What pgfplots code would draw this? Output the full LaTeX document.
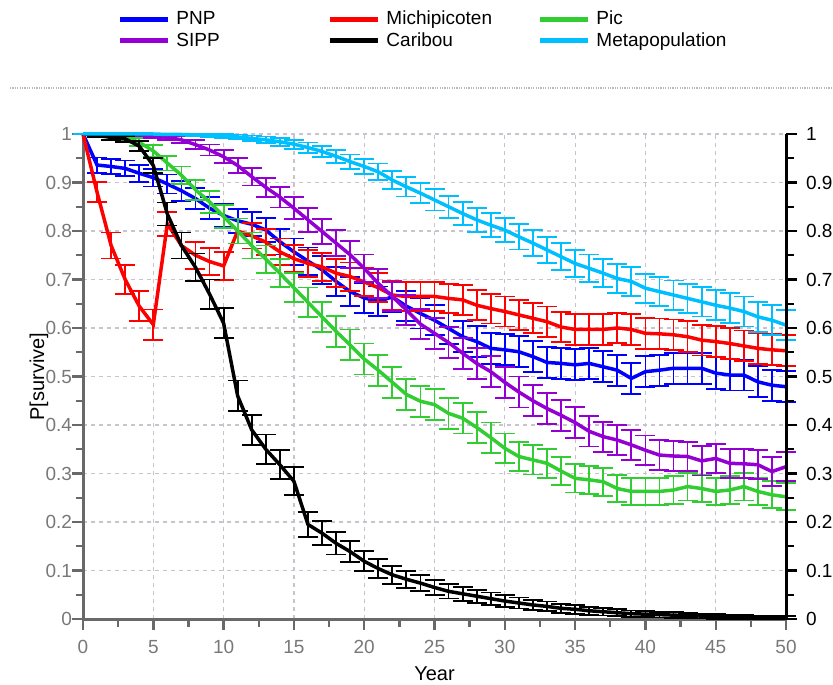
\documentclass[border=0pt]{standalone}
\usepackage{fontspec}
\setmainfont{Liberation Sans}
\usepackage{pgfplots}
\usepackage{pgfplotstable}
\pgfplotsset{compat=1.18}
\definecolor{cPNP}{RGB}{0,0,255}
\definecolor{cMich}{RGB}{255,0,0}
\definecolor{cPic}{RGB}{50,205,50}
\definecolor{cSIPP}{RGB}{148,0,211}
\definecolor{cCar}{RGB}{0,0,0}
\definecolor{cMeta}{RGB}{0,191,255}
\definecolor{axgray}{RGB}{105,105,105}
\definecolor{lblgray}{RGB}{120,120,120}
\definecolor{gridc}{RGB}{200,195,205}
\newcommand{\lf}{\fontsize{9.5}{11}\selectfont}
\newcommand{\ls}{\rule[-2.5pt]{0pt}{9pt}}

\pgfplotstableread{
t p e
0 1 0
1 0.936 0.0157
2 0.933 0.016
3 0.929 0.0164
4 0.919 0.0175
5 0.91 0.0183
6 0.897 0.0195
7 0.883 0.0206
8 0.867 0.0217
9 0.847 0.023
10 0.832 0.0239
11 0.821 0.0245
12 0.814 0.0249
13 0.802 0.0255
14 0.778 0.0266
15 0.757 0.0275
16 0.738 0.0281
17 0.72 0.0287
18 0.696 0.0294
19 0.675 0.03
20 0.662 0.0303
21 0.655 0.0304
22 0.664 0.0302
23 0.645 0.0306
24 0.63 0.0309
25 0.616 0.0311
26 0.599 0.0314
27 0.582 0.0316
28 0.572 0.0317
29 0.558 0.0318
30 0.555 0.0318
31 0.551 0.0318
32 0.541 0.0319
33 0.529 0.0319
34 0.527 0.0319
35 0.524 0.032
36 0.527 0.0319
37 0.52 0.032
38 0.513 0.032
39 0.496 0.032
40 0.51 0.032
41 0.513 0.032
42 0.517 0.032
43 0.517 0.032
44 0.517 0.032
45 0.507 0.032
46 0.503 0.032
47 0.503 0.032
48 0.489 0.032
49 0.482 0.032
50 0.479 0.032
}\tPNP

\pgfplotstableread{
t p e
0 1 0
1 0.88 0.0208
2 0.77 0.0269
3 0.70 0.0293
4 0.645 0.0306
5 0.607 0.0313
6 0.815 0.0249
7 0.77 0.0269
8 0.75 0.0277
9 0.737 0.0282
10 0.728 0.0285
11 0.80 0.0256
12 0.79 0.0261
13 0.777 0.0266
14 0.757 0.0275
15 0.743 0.028
16 0.733 0.0283
17 0.726 0.0285
18 0.713 0.029
19 0.706 0.0292
20 0.695 0.0295
21 0.683 0.0298
22 0.668 0.0301
23 0.665 0.0302
24 0.665 0.0302
25 0.665 0.0302
26 0.661 0.0303
27 0.658 0.0304
28 0.647 0.0306
29 0.64 0.0307
30 0.634 0.0308
31 0.627 0.0309
32 0.62 0.0311
33 0.613 0.0312
34 0.602 0.0313
35 0.597 0.0314
36 0.597 0.0314
37 0.597 0.0314
38 0.60 0.0314
39 0.597 0.0314
40 0.589 0.0315
41 0.588 0.0315
42 0.586 0.0315
43 0.582 0.0316
44 0.575 0.0316
45 0.572 0.0317
46 0.568 0.0317
47 0.563 0.0317
48 0.558 0.0318
49 0.555 0.0318
50 0.553 0.0318
}\tMich

\pgfplotstableread{
t p e
0 1 0
1 1 0
2 0.998 0.0029
3 0.993 0.0053
4 0.983 0.0083
5 0.965 0.0118
6 0.94 0.0152
7 0.915 0.0179
8 0.885 0.0204
9 0.86 0.0222
10 0.83 0.024
11 0.80 0.0256
12 0.77 0.0269
13 0.742 0.028
14 0.713 0.029
15 0.683 0.0298
16 0.653 0.0305
17 0.623 0.031
18 0.593 0.0314
19 0.565 0.0317
20 0.536 0.0319
21 0.513 0.032
22 0.488 0.032
23 0.463 0.0319
24 0.449 0.0318
25 0.442 0.0318
26 0.424 0.0316
27 0.414 0.0315
28 0.395 0.0313
29 0.374 0.031
30 0.352 0.0306
31 0.335 0.0302
32 0.328 0.03
33 0.321 0.0299
34 0.305 0.0295
35 0.29 0.029
36 0.287 0.029
37 0.283 0.0288
38 0.269 0.0284
39 0.263 0.0282
40 0.263 0.0282
41 0.263 0.0282
42 0.266 0.0283
43 0.273 0.0285
44 0.269 0.0284
45 0.263 0.0282
46 0.266 0.0283
47 0.273 0.0285
48 0.263 0.0282
49 0.256 0.0279
50 0.252 0.0278
}\tPic

\pgfplotstableread{
t p e
0 1 0
1 1 0
2 1 0
3 0.999 0.002
4 0.998 0.0029
5 0.996 0.004
6 0.993 0.0053
7 0.988 0.007
8 0.978 0.0094
9 0.967 0.0114
10 0.953 0.0135
11 0.935 0.0158
12 0.912 0.0181
13 0.89 0.02
14 0.87 0.0215
15 0.847 0.023
16 0.823 0.0244
17 0.799 0.0257
18 0.775 0.0267
19 0.751 0.0277
20 0.723 0.0286
21 0.692 0.0295
22 0.665 0.0302
23 0.637 0.0308
24 0.608 0.0312
25 0.589 0.0315
26 0.57 0.0317
27 0.548 0.0319
28 0.527 0.0319
29 0.51 0.032
30 0.488 0.032
31 0.468 0.0319
32 0.45 0.0318
33 0.434 0.0317
34 0.42 0.0316
35 0.405 0.0314
36 0.387 0.0312
37 0.376 0.031
38 0.369 0.0309
39 0.359 0.0307
40 0.348 0.0305
41 0.338 0.0303
42 0.336 0.0302
43 0.335 0.0302
44 0.326 0.03
45 0.331 0.0301
46 0.321 0.0299
47 0.32 0.0299
48 0.318 0.0298
49 0.304 0.0294
50 0.314 0.0297
}\tSIPP

\pgfplotstableread{
t p e
0 1 0
1 0.997 0.0035
2 0.993 0.0053
3 0.99 0.0064
4 0.975 0.01
5 0.935 0.0158
6 0.835 0.0237
7 0.77 0.0269
8 0.725 0.0286
9 0.67 0.0301
10 0.61 0.0312
11 0.46 0.0319
12 0.39 0.0312
13 0.35 0.0305
14 0.318 0.0298
15 0.284 0.0289
16 0.195 0.0254
17 0.177 0.0244
18 0.156 0.0232
19 0.139 0.0221
20 0.119 0.0207
21 0.104 0.0195
22 0.091 0.0184
23 0.082 0.0176
24 0.074 0.0168
25 0.065 0.0158
26 0.057 0.0148
27 0.052 0.0142
28 0.047 0.0135
29 0.042 0.0128
30 0.037 0.0121
31 0.033 0.0114
32 0.029 0.0107
33 0.026 0.0102
34 0.022 0.0094
35 0.02 0.009
36 0.017 0.0083
37 0.015 0.0078
38 0.013 0.0073
39 0.011 0.0067
40 0.01 0.0064
41 0.009 0.0061
42 0.008 0.0057
43 0.007 0.0053
44 0.006 0.005
45 0.005 0.0045
46 0.004 0.004
47 0.004 0.004
48 0.003 0.0035
49 0.003 0.0035
50 0.003 0.0035
}\tCar

\pgfplotstableread{
t p e
0 1 0
1 1 0
2 1 0
3 1 0
4 1 0
5 1 0
6 0.999 0.002
7 0.999 0.002
8 0.998 0.0029
9 0.997 0.0035
10 0.996 0.004
11 0.994 0.0049
12 0.991 0.006
13 0.988 0.007
14 0.984 0.008
15 0.979 0.0092
16 0.972 0.0106
17 0.964 0.0119
18 0.954 0.0134
19 0.943 0.0148
20 0.933 0.016
21 0.922 0.0172
22 0.905 0.0188
23 0.891 0.0199
24 0.878 0.0209
25 0.864 0.0219
26 0.85 0.0229
27 0.836 0.0237
28 0.823 0.0244
29 0.812 0.025
30 0.802 0.0255
31 0.788 0.0262
32 0.775 0.0267
33 0.761 0.0273
34 0.747 0.0278
35 0.733 0.0283
36 0.723 0.0286
37 0.713 0.029
38 0.702 0.0293
39 0.696 0.0294
40 0.682 0.0298
41 0.675 0.03
42 0.668 0.0301
43 0.661 0.0303
44 0.654 0.0304
45 0.647 0.0306
46 0.641 0.0307
47 0.634 0.0308
48 0.623 0.031
49 0.616 0.0311
50 0.606 0.0313
}\tMeta

\begin{document}
\begin{tikzpicture}
\path[use as bounding box] (0,0) rectangle (416.5pt,342pt);
\draw[gray!55, line width=1pt, dash pattern=on 0.6pt off 0.6pt] (5pt,298pt) -- (416.5pt,298pt);
\begin{axis}[
  at={(41.5pt,32.5pt)}, anchor=south west,
  scale only axis, width=351.5pt, height=242.5pt,
  xmin=0, xmax=50, ymin=0, ymax=1,
  axis x line*=bottom, axis y line*=left,
  axis line style={axgray, line width=1.5pt},
  xtick={0,5,10,15,20,25,30,35,40,45,50},
  ytick={0,0.1,0.2,0.3,0.4,0.5,0.6,0.7,0.8,0.9,1},
  minor x tick num=1, minor y tick num=1,
  tick align=outside, major tick length=5.5pt, minor tick length=3.75pt,
  every tick/.style={axgray, line width=1.2pt},
  grid=major,
  major grid style={gridc, dash pattern=on 2pt off 2pt, line width=0.6pt},
  /pgf/number format/assume math mode=true,
  ticklabel style={font=\lf, lblgray},
  yticklabel style={/pgf/number format/fixed, xshift=3.5pt},
  xticklabel style={yshift=-1.5pt},
  xlabel={Year}, ylabel={P[survive]},
  label style={font=\lf, lblgray},
  every axis x label/.style={at={([yshift=-27.5pt]axis description cs:0.5,0)}, anchor=center},
  every axis y label/.style={at={([xshift=-22pt]axis description cs:0,0.5)}, anchor=center, rotate=90},
  clip=false,
  legend columns=3,
  legend style={at={(axis description cs:0.0485,1.255)}, anchor=north west,
    draw=none, fill=none, inner sep=0pt, row sep=2.5pt, column sep=0pt,
    nodes={inner sep=0pt}, font=\lf},
  legend image code/.code={\draw[#1, line width=2.5pt] (0pt,0pt) -- (24pt,0pt);},
  every axis plot/.append style={line width=1.75pt, mark=none},
  error bars/y dir=both, error bars/y explicit,
  error bars/error mark=|,
  error bars/error bar style={line width=0.9pt},
  error bars/error mark options={line width=0.9pt, mark size=5pt},
]
\addplot[cPNP] table[x=t, y=p, y error=e] {\tPNP};
\addlegendentry{\hspace{3pt}\makebox[75.5pt][l]{\ls PNP}}
\addplot[cMich] table[x=t, y=p, y error=e] {\tMich};
\addlegendentry{\hspace{3pt}\makebox[75.5pt][l]{\ls Michipicoten}}
\addplot[cPic] table[x=t, y=p, y error=e] {\tPic};
\addlegendentry{\hspace{3pt}\makebox[75.5pt][l]{\ls Pic}}
\addplot[cSIPP] table[x=t, y=p, y error=e] {\tSIPP};
\addlegendentry{\hspace{3pt}\makebox[75.5pt][l]{\ls SIPP}}
\addplot[cCar] table[x=t, y=p, y error=e] {\tCar};
\addlegendentry{\hspace{3pt}\makebox[75.5pt][l]{\ls Caribou}}
\addplot[cMeta] table[x=t, y=p, y error=e] {\tMeta};
\addlegendentry{\hspace{3pt}\makebox[75.5pt][l]{\ls Metapopulation}}
\end{axis}
\begin{axis}[
  at={(41.5pt,32.5pt)}, anchor=south west,
  scale only axis, width=351.5pt, height=242.5pt,
  xmin=0, xmax=50, ymin=0, ymax=1,
  axis x line=none, axis y line*=right,
  axis line style={black, line width=1.5pt},
  ytick={0,0.1,0.2,0.3,0.4,0.5,0.6,0.7,0.8,0.9,1},
  minor y tick num=1,
  tick align=outside, major tick length=5.5pt, minor tick length=3.75pt,
  every tick/.style={black, line width=1.2pt},
  /pgf/number format/assume math mode=true,
  yticklabel style={font=\lf, black, /pgf/number format/fixed, xshift=1pt},
]
\end{axis}
\end{tikzpicture}
\end{document}
